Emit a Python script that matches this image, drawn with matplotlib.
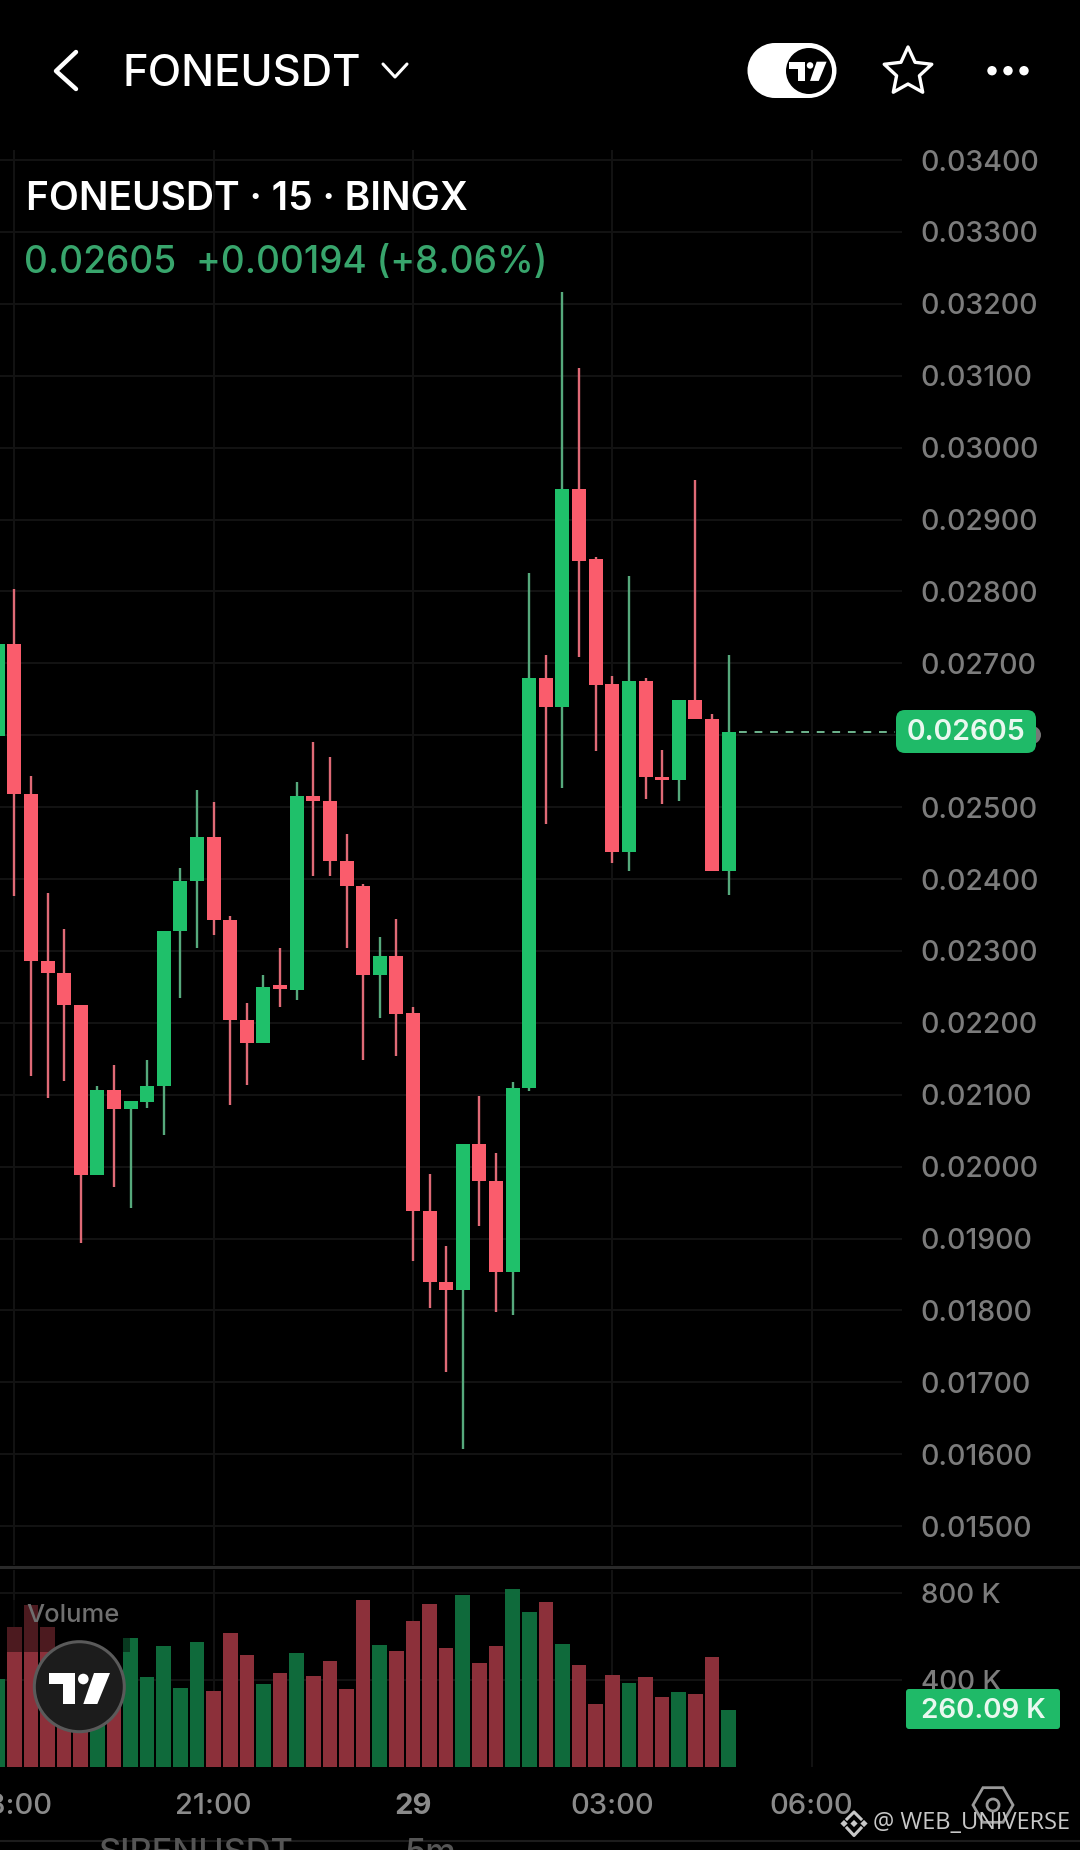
import matplotlib
matplotlib.use("Agg")
import matplotlib.pyplot as plt
from matplotlib.patches import FancyBboxPatch, Circle, Polygon, Rectangle, RegularPolygon
from matplotlib.lines import Line2D
import numpy as np

plt.rcParams['font.family'] = ['Inter', 'DejaVu Sans']

W, H = 1080, 1850

# ---- data ----
opens = [.02599,.02727,.02518,.02286,.02270,.02225,.01988,.02107,.02080,.02090,.02112,.02328,.02398,.02459,.02343,
         .02204,.02172,.02252,.02246,.02516,.02509,.02425,.02390,.02266,.02293,.02214,.01938,.01840,.01829,.02031,
         .01980,.01853,.02109,.02679,.02640,.02943,.02845,.02671,.02438,.02675,.02542,.02538,.02649,.02622,.02411]
closes = [.02727,.02518,.02286,.02270,.02225,.01988,.02107,.02080,.02091,.02112,.02328,.02398,.02459,.02343,.02204,
          .02172,.02250,.02247,.02516,.02509,.02425,.02390,.02266,.02293,.02212,.01938,.01840,.01829,.02031,.01980,
          .01853,.02109,.02679,.02640,.02943,.02843,.02670,.02438,.02675,.02542,.02538,.02649,.02622,.02411,.02605]
highs = [.02727,.02803,.02544,.02381,.02330,.02225,.02112,.02142,.02091,.02148,.02328,.02415,.02524,.02507,.02348,
         .02227,.02266,.02304,.02535,.02590,.02570,.02462,.02393,.02320,.02345,.02222,.01990,.01889,.02031,.02098,
         .02019,.02118,.02825,.02712,.03217,.03111,.02848,.02683,.02822,.02679,.02580,.02649,.02955,.02630,.02712]
lows = [.02599,.02376,.02126,.02096,.02119,.01894,.01988,.01972,.01943,.02082,.02044,.02234,.02304,.02322,.02086,
        .02114,.02172,.02222,.02232,.02404,.02404,.02304,.02149,.02207,.02154,.01869,.01804,.01714,.01607,.01918,
        .01798,.01794,.02105,.02476,.02526,.02709,.02578,.02422,.02411,.02511,.02505,.02508,.02622,.02411,.02378]
volumes = [403,641,745,641,385,323,308,369,591,412,557,362,574,349,615,514,382,434,526,420,485,357,769,562,531,
           672,749,545,792,480,557,820,714,758,565,468,291,422,386,412,323,345,335,506,260]
price_ticks = [.034,.033,.032,.031,.030,.029,.028,.027,.026,.025,.024,.023,.022,.021,.020,.019,.018,.017,.016,.015]
volume_ticks = [400, 800]
time_ticks = [1, 13, 25, 37, 49]
time_labels = ['18:00', '21:00', '29', '03:00', '06:00']
last_price = 0.02605
last_volume = 260.09

BG = '#000000'
GRID = '#131313'
UP_BODY, DOWN_BODY = '#1fc06a', '#fa5c6c'
UP_WICK, DOWN_WICK = '#56a97c', '#df6a76'
UP_VOL, DOWN_VOL = '#0f6a3b', '#8c303a'
AXIS_TXT = '#7c7c7c'
TICK_SIZE = 20.5

fig = plt.figure(figsize=(W/100, H/100), dpi=100, facecolor=BG)

def axrect(l, t, r, b):
    return [l/W, 1-b/H, (r-l)/W, (b-t)/H]

xlim = (0.139, 54.44)
ax = fig.add_axes(axrect(0, 150, 902, 1565), facecolor=BG)
axv = fig.add_axes(axrect(0, 1570, 902, 1767), facecolor=BG)

idx = np.arange(len(opens))
o, c, hi, lo = map(np.array, (opens, closes, highs, lows))
up = c >= o

ax.vlines(idx[up], lo[up], hi[up], color=UP_WICK, lw=1.7, zorder=3)
ax.vlines(idx[~up], lo[~up], hi[~up], color=DOWN_WICK, lw=1.7, zorder=3)
ax.bar(idx[up], (c-o)[up], bottom=o[up], width=0.84, color=UP_BODY, zorder=4)
ax.bar(idx[~up], (o-c)[~up], bottom=c[~up], width=0.84, color=DOWN_BODY, zorder=4)

ax.set_xlim(*xlim)
ax.set_ylim(0.01446, 0.03414)
ax.set_yticks(price_ticks)
ax.set_yticklabels([f'{p:.5f}' for p in price_ticks], fontweight='medium')
ax.yaxis.tick_right()
ax.tick_params(axis='y', length=0, pad=13.5, labelsize=TICK_SIZE, labelcolor=AXIS_TXT)
ax.set_xticks(time_ticks)
ax.tick_params(axis='x', length=0, labelbottom=False)
ax.grid(True, color=GRID, lw=1.4, zorder=0)
ax.set_axisbelow(True)
for s in ax.spines.values():
    s.set_visible(False)

# last-price dashed line
ax.plot([44.6, 54.0], [last_price, last_price], color='#6fb58e', lw=1.4, dashes=(4, 4), zorder=3)

v = np.array(volumes, float)
axv.bar(idx[up], v[up], width=0.88, color=UP_VOL, zorder=3)
axv.bar(idx[~up], v[~up], width=0.88, color=DOWN_VOL, zorder=3)
axv.set_xlim(*xlim)
axv.set_ylim(0, 905)
axv.set_yticks(volume_ticks)
axv.set_yticklabels([f'{t} K' for t in volume_ticks], fontweight='medium')
axv.yaxis.tick_right()
axv.tick_params(axis='y', length=0, pad=13.5, labelsize=20, labelcolor=AXIS_TXT)
axv.set_xticks(time_ticks)
axv.set_xticklabels(time_labels, fontweight='medium')
axv.tick_params(axis='x', length=0, pad=19, labelsize=21, labelcolor='#8a8a8a')
axv.get_xticklabels()[2].set_fontweight('bold')
axv.grid(True, color=GRID, lw=1.4, zorder=0)
axv.set_axisbelow(True)
for s in axv.spines.values():
    s.set_visible(False)

# ---- overlay in pixel coordinates ----
ov = fig.add_axes([0, 0, 1, 1], facecolor='none', zorder=10)
ov.set_xlim(0, W)
ov.set_ylim(H, 0)
ov.axis('off')

# pane separator
ov.add_line(Line2D([0, W], [1567, 1567], color='#2a2a2a', lw=2.2))

def tv_logo(cx, cy, s, col='white'):
    ov.add_patch(Polygon([(cx-30.7*s, cy-15*s), (cx-5*s, cy-15*s), (cx-5*s, cy+16*s), (cx-16.7*s, cy+16*s),
                          (cx-16.7*s, cy-4*s), (cx-30.7*s, cy-4*s)], closed=True, fc=col, ec='none'))
    ov.add_patch(Circle((cx+3.3*s, cy-9*s), 5.3*s, fc=col, ec='none'))
    ov.add_patch(Polygon([(cx+14*s, cy-15*s), (cx+30*s, cy-15*s), (cx+17.3*s, cy+16*s), (cx+3.3*s, cy+16*s)],
                         closed=True, fc=col, ec='none'))

# header
ov.add_line(Line2D([76, 56, 76], [52, 71, 89], color='white', lw=3.2, solid_capstyle='round', solid_joinstyle='round'))
ov.text(123, 74, 'FONEUSDT', color='white', fontsize=31.4, va='center', ha='left', fontweight='medium')
ov.add_line(Line2D([383, 395, 407], [64, 77, 64], color='white', lw=2.2, solid_capstyle='round', solid_joinstyle='round'))
ov.add_patch(Rectangle((775, 43), 34, 55, fc='white', ec='none'))
ov.add_patch(Circle((775, 70.5), 27.5, fc='white', ec='none'))
ov.add_patch(Circle((809, 70.5), 27.5, fc='white', ec='none'))
ov.add_patch(Circle((809, 71), 23, fc='black', ec='none'))
tv_logo(808, 71, 0.62)
star_t = np.deg2rad(np.arange(-90, 270, 36))
star_r = np.where(np.arange(10) % 2 == 0, 25, 12)
ov.add_patch(Polygon(np.c_[908+star_r*np.cos(star_t), 72+star_r*np.sin(star_t)], closed=True,
                     fc='none', ec='white', lw=2.4, joinstyle='round'))
for dx in (992, 1008, 1024):
    ov.add_patch(Circle((dx, 70.7), 4.7, fc='white', ec='none'))

# legend
ov.text(26, 200, 'FONEUSDT · 15 · BINGX', color='white', fontsize=28, va='center', ha='left', fontweight='semibold')
ov.text(24, 263, '0.02605  +0.00194 (+8.06%)', color='#38a56c', fontsize=26.7, va='center', ha='left', fontweight='medium')

# last price tag
ov.add_patch(Circle((1032, 735), 9, fc='#777777', ec='none'))
ov.add_patch(FancyBboxPatch((896, 710), 140, 43, boxstyle='round,pad=0,rounding_size=9', fc='#1fba68', ec='none'))
ov.text(966, 733, f'{last_price:.5f}', color='#e9f8ef', fontsize=20.4, va='center', ha='center', fontweight='semibold')

# volume legend
ov.add_patch(Rectangle((0, 1600), 130, 52, fc='black', alpha=0.45, ec='none'))
ov.text(26, 1616, 'Volume', color='#6f6f6f', fontsize=18.4, va='center', ha='left', fontweight='medium')
ov.add_patch(FancyBboxPatch((906, 1689), 154, 40, boxstyle='round,pad=0,rounding_size=3', fc='#1fba68', ec='none'))
ov.text(983, 1711, f'{last_volume:.2f} K', color='#e9f8ef', fontsize=20, va='center', ha='center', fontweight='semibold')

# floating logo
ov.add_patch(Circle((79.3, 1686.7), 45, fc='#1c1c1c', ec='#5a5a5a', lw=2.2))
tv_logo(80, 1688, 1.0)

# bottom icons / watermark
ov.add_patch(RegularPolygon((993, 1805), 6, radius=20, orientation=np.pi/6, fc='none', ec='#9a9a9a', lw=2))
ov.add_patch(Circle((993, 1805), 6, fc='none', ec='#9a9a9a', lw=2))
WM = '#c8c8c8'
for (dx, dy) in [(854, 1823.5), (844, 1823.5), (864, 1823.5)]:
    ov.add_patch(Polygon([(dx, dy-3.6), (dx+3.6, dy), (dx, dy+3.6), (dx-3.6, dy)], closed=True, fc=WM, ec='none'))
ov.add_line(Line2D([847, 854, 861], [1819, 1812, 1819], color=WM, lw=2.2))
ov.add_line(Line2D([847, 854, 861], [1828, 1835.5, 1828], color=WM, lw=2.2))
ov.text(873, 1823, '@ WEB_UNIVERSE', color=WM, fontsize=17, va='center', ha='left', family='Open Sans')
ov.add_line(Line2D([0, W], [1841, 1841], color='#1c1c1c', lw=1.5))
ov.text(98, 1863, 'SIRENUSDT', color='#555555', fontsize=24.7, va='baseline', ha='left', fontweight='medium')
ov.text(404, 1863, '5m', color='#555555', fontsize=24.7, va='baseline', ha='left', fontweight='medium')

fig.savefig('out.png', dpi=100, facecolor=BG)
